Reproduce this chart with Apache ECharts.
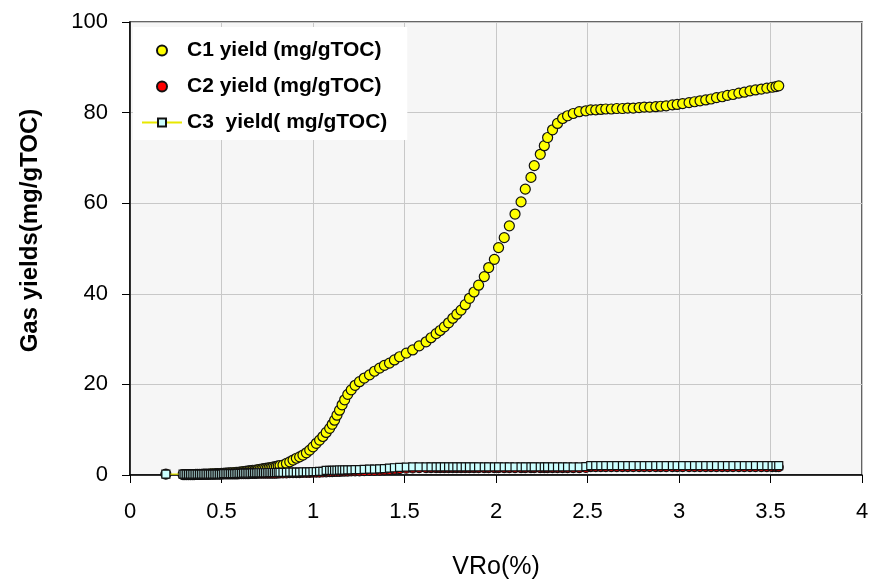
<!DOCTYPE html>
<html>
<head>
<meta charset="utf-8">
<script src="https://cdn.jsdelivr.net/npm/echarts@6/dist/echarts.min.js"></script>
<style>
html,body{margin:0;padding:0;background:#fff;}
#chart{width:871px;height:579px;}
</style>
</head>
<body>
<div id="chart"></div>
<script>
// VRo (%) sample positions
const vro = [
  0.196, 0.29, 0.30, 0.31, 0.32, 0.33, 0.34, 0.35, 0.36, 0.37,
  0.38, 0.39, 0.40, 0.41, 0.42, 0.43, 0.44, 0.45, 0.46, 0.47,
  0.48, 0.49, 0.50, 0.51, 0.52, 0.53, 0.54, 0.55, 0.56, 0.57,
  0.58, 0.59, 0.60, 0.61, 0.62, 0.63, 0.64, 0.65, 0.66, 0.67,
  0.68, 0.69, 0.70, 0.71, 0.72, 0.73, 0.74, 0.75, 0.76, 0.77,
  0.78, 0.79, 0.80, 0.81, 0.82, 0.836, 0.855, 0.873, 0.891, 0.909,
  0.927, 0.945, 0.964, 0.982, 1.0, 1.018, 1.036, 1.054, 1.072, 1.091,
  1.105, 1.118, 1.131, 1.145, 1.159, 1.173, 1.19, 1.209, 1.23, 1.254,
  1.28, 1.309, 1.336, 1.364, 1.39, 1.418, 1.445, 1.473, 1.51, 1.545,
  1.58, 1.618, 1.645, 1.673, 1.695, 1.718, 1.741, 1.764, 1.786, 1.809,
  1.832, 1.855, 1.88, 1.905, 1.936, 1.96, 1.991, 2.014, 2.045, 2.073,
  2.104, 2.137, 2.16, 2.191, 2.209, 2.242, 2.264, 2.282, 2.309, 2.336,
  2.364, 2.391, 2.422, 2.455, 2.491, 2.518, 2.545, 2.573, 2.60, 2.63,
  2.66, 2.691, 2.72, 2.75, 2.782, 2.81, 2.84, 2.873, 2.9, 2.93,
  2.964, 2.99, 3.02, 3.055, 3.085, 3.115, 3.146, 3.175, 3.205, 3.236,
  3.265, 3.295, 3.327, 3.357, 3.388, 3.418, 3.45, 3.48, 3.509, 3.53,
  3.545
];
// C1 yield (mg/gTOC)
const c1 = [
  0.2, 0.1, 0.1, 0.1, 0.1, 0.1, 0.1, 0.1, 0.15, 0.15,
  0.15, 0.15, 0.2, 0.2, 0.2, 0.2, 0.25, 0.25, 0.25, 0.3,
  0.3, 0.3, 0.35, 0.35, 0.4, 0.4, 0.45, 0.45, 0.5, 0.55,
  0.6, 0.6, 0.65, 0.7, 0.75, 0.8, 0.85, 0.9, 0.95, 1.0,
  1.05, 1.1, 1.2, 1.25, 1.3, 1.4, 1.45, 1.5, 1.6, 1.65,
  1.75, 1.8, 1.9, 2.0, 2.1, 2.2, 2.55, 2.9, 3.3, 3.7,
  4.0, 4.4, 4.9, 5.5, 6.2, 7.0, 7.7, 8.5, 9.4, 10.3,
  11.2, 12.1, 13.2, 14.3, 15.5, 16.6, 17.8, 18.8, 19.8, 20.6,
  21.4, 22.1, 22.9, 23.6, 24.2, 24.7, 25.4, 26.1, 26.9, 27.6,
  28.5, 29.4, 30.3, 31.2, 31.9, 32.7, 33.6, 34.6, 35.5, 36.4,
  37.6, 39.0, 40.4, 41.9, 43.8, 45.8, 47.6, 50.2, 52.4, 55.0,
  57.6, 60.3, 63.1, 65.7, 68.3, 70.8, 72.7, 74.5, 76.2, 77.6,
  78.7, 79.3, 79.8, 80.2, 80.4, 80.6, 80.6, 80.7, 80.8, 80.8,
  80.9, 80.9, 81.0, 81.0, 81.1, 81.2, 81.2, 81.3, 81.4, 81.5,
  81.7, 81.8, 82.0, 82.2, 82.4, 82.6, 82.8, 83.0, 83.3, 83.5,
  83.8, 84.0, 84.3, 84.5, 84.8, 85.0, 85.2, 85.4, 85.6, 85.75,
  85.9
];
// C2 yield (mg/gTOC)
const c2 = [
  0.2, 0.1, 0.1, 0.1, 0.1, 0.1, 0.1, 0.1, 0.1, 0.1,
  0.1, 0.1, 0.1, 0.1, 0.1, 0.1, 0.1, 0.1, 0.1, 0.1,
  0.1, 0.1, 0.1, 0.15, 0.15, 0.15, 0.15, 0.15, 0.15, 0.15,
  0.15, 0.15, 0.2, 0.2, 0.2, 0.2, 0.2, 0.2, 0.25, 0.25,
  0.25, 0.25, 0.3, 0.3, 0.3, 0.3, 0.3, 0.3, 0.3, 0.3,
  0.3, 0.3, 0.3, 0.35, 0.35, 0.35, 0.35, 0.4, 0.4, 0.4,
  0.4, 0.45, 0.45, 0.45, 0.5, 0.5, 0.5, 0.55, 0.6, 0.65,
  0.65, 0.7, 0.7, 0.7, 0.75, 0.75, 0.75, 0.8, 0.8, 0.8,
  0.85, 0.9, 0.9, 0.95, 1.0, 1.1, 1.2, 1.3, 1.4, 1.45,
  1.5, 1.5, 1.5, 1.5, 1.5, 1.5, 1.5, 1.5, 1.5, 1.5,
  1.5, 1.5, 1.5, 1.5, 1.5, 1.5, 1.5, 1.5, 1.5, 1.5,
  1.5, 1.5, 1.5, 1.5, 1.5, 1.5, 1.5, 1.5, 1.5, 1.5,
  1.5, 1.5, 1.5, 1.5, 1.55, 1.75, 1.75, 1.75, 1.75, 1.75,
  1.75, 1.75, 1.75, 1.75, 1.75, 1.75, 1.75, 1.75, 1.75, 1.75,
  1.75, 1.75, 1.75, 1.75, 1.75, 1.75, 1.75, 1.75, 1.75, 1.75,
  1.75, 1.75, 1.75, 1.75, 1.75, 1.75, 1.75, 1.75, 1.75, 1.75,
  1.75
];
// C3 yield (mg/gTOC)
const c3 = [
  0.2, 0.2, 0.2, 0.2, 0.2, 0.2, 0.2, 0.2, 0.2, 0.2,
  0.2, 0.2, 0.2, 0.2, 0.2, 0.2, 0.2, 0.2, 0.2, 0.2,
  0.2, 0.2, 0.2, 0.3, 0.3, 0.3, 0.3, 0.3, 0.3, 0.3,
  0.3, 0.35, 0.35, 0.35, 0.4, 0.4, 0.4, 0.4, 0.4, 0.45,
  0.45, 0.45, 0.5, 0.5, 0.5, 0.5, 0.5, 0.5, 0.55, 0.55,
  0.55, 0.55, 0.55, 0.6, 0.6, 0.6, 0.6, 0.65, 0.65, 0.65,
  0.65, 0.7, 0.7, 0.7, 0.75, 0.75, 0.8, 0.8, 1.0, 1.0,
  1.0, 1.05, 1.05, 1.1, 1.1, 1.1, 1.15, 1.15, 1.2, 1.2,
  1.25, 1.3, 1.3, 1.35, 1.4, 1.5, 1.6, 1.7, 1.75, 1.8,
  1.8, 1.8, 1.8, 1.8, 1.8, 1.8, 1.8, 1.8, 1.8, 1.8,
  1.8, 1.8, 1.8, 1.8, 1.8, 1.8, 1.8, 1.8, 1.8, 1.8,
  1.8, 1.8, 1.8, 1.8, 1.8, 1.8, 1.8, 1.8, 1.8, 1.8,
  1.8, 1.8, 1.8, 1.8, 1.85, 2.05, 2.05, 2.05, 2.05, 2.05,
  2.05, 2.05, 2.05, 2.05, 2.05, 2.05, 2.05, 2.05, 2.05, 2.05,
  2.05, 2.05, 2.05, 2.05, 2.05, 2.05, 2.05, 2.05, 2.05, 2.05,
  2.05, 2.05, 2.05, 2.05, 2.05, 2.05, 2.05, 2.05, 2.05, 2.05,
  2.05
];
const seriesNames = ['C1 yield (mg/gTOC)', 'C2 yield (mg/gTOC)', 'C3  yield( mg/gTOC)'];
const xTitle = 'VRo(%)';
const yTitle = 'Gas yields(mg/gTOC)';

const pairs = arr => vro.map((v, i) => [v, arr[i]]);
const font = "'Liberation Sans', Arial, sans-serif";

const chart = echarts.init(document.getElementById('chart'), null, {renderer: 'canvas'});
chart.setOption({
  animation: false,
  backgroundColor: '#ffffff',
  grid: {
    left: 130, right: 9, top: 22, bottom: 104,
    containLabel: false, outerBoundsMode: 'none',
    show: true, backgroundColor: '#f6f6f6', borderColor: '#333333', borderWidth: 1.5
  },
  legend: {
    orient: 'vertical',
    left: 133, top: 27,
    padding: [13, 20, 7, 8],
    backgroundColor: '#ffffff',
    itemWidth: 40, itemHeight: 10, itemGap: 15,
    textStyle: {fontFamily: font, fontSize: 21, fontWeight: 'bold', color: '#000', lineHeight: 20},
    data: seriesNames,
    z: 10
  },
  xAxis: {
    type: 'value', min: 0, max: 4, interval: 0.5,
    name: xTitle, nameLocation: 'middle', nameGap: 80,
    nameTextStyle: {fontFamily: font, fontSize: 25, color: '#000'},
    axisLine: {show: true, lineStyle: {color: '#000', width: 1.5}},
    axisTick: {show: true, inside: false, length: 8, lineStyle: {color: '#000'}},
    axisLabel: {margin: 26, fontFamily: font, fontSize: 22, color: '#000'},
    splitLine: {show: true, lineStyle: {color: '#c8c8c8', width: 1}}
  },
  yAxis: {
    type: 'value', min: 0, max: 100, interval: 20,
    name: yTitle, nameLocation: 'middle', nameGap: 88,
    nameTextStyle: {fontFamily: font, fontSize: 24, fontWeight: 'bold', color: '#000', padding: [0, 0, 0, 36]},
    axisLine: {show: true, lineStyle: {color: '#000', width: 1.5}},
    axisTick: {show: true, inside: false, length: 8, lineStyle: {color: '#000'}},
    axisLabel: {margin: 22, fontFamily: font, fontSize: 22, color: '#000'},
    splitLine: {show: true, lineStyle: {color: '#c8c8c8', width: 1}}
  },
  series: [
    {
      name: seriesNames[0], type: 'scatter', data: pairs(c1),
      symbol: 'circle', symbolSize: 10,
      itemStyle: {color: '#ffff00', borderColor: '#111', borderWidth: 1.2, opacity: 1}
    },
    {
      name: seriesNames[1], type: 'scatter', data: pairs(c2),
      symbol: 'circle', symbolSize: 9,
      itemStyle: {color: '#ff0000', borderColor: '#111', borderWidth: 1.2, opacity: 1}
    },
    {
      name: seriesNames[2], type: 'line', data: pairs(c3),
      symbol: 'rect', symbolSize: 8, showSymbol: true, showAllSymbol: true,
      lineStyle: {color: '#e8e800', width: 1.2},
      itemStyle: {color: '#ccffff', borderColor: '#111', borderWidth: 1.2}
    }
  ]
});
</script>
</body>
</html>
